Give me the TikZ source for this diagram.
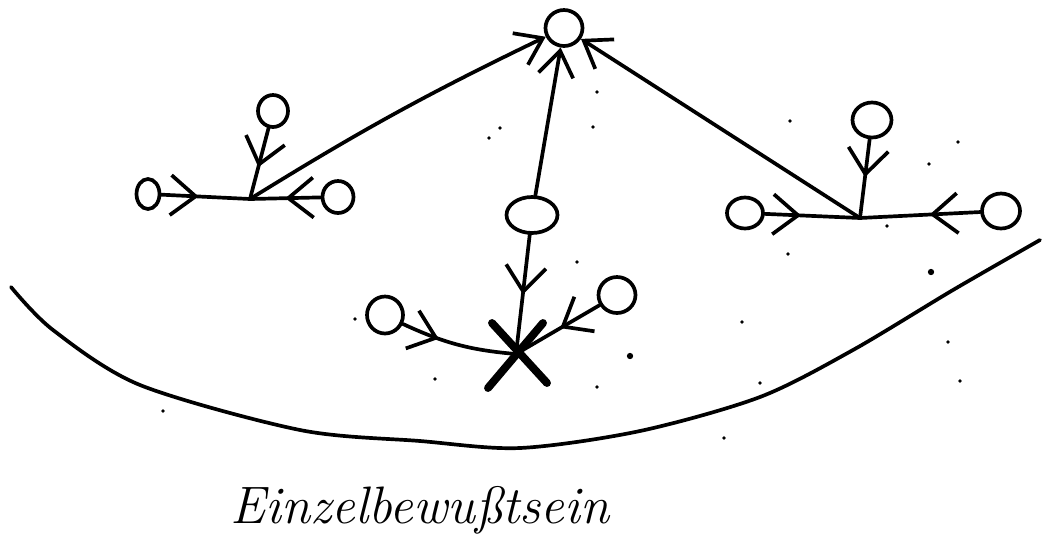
\documentclass[tikz,border=0pt]{standalone}
\usepackage{fontspec}
\usetikzlibrary{arrows.meta, decorations.markings, shapes.geometric}

\begin{document}
\begin{tikzpicture}[x=0.02cm, y=-0.02cm,
  blob/.style={ellipse, draw, line width=2.1pt, inner sep=0pt, minimum width=0.62cm, minimum height=0.62cm},
  stem/.style={line width=2.1pt, line cap=round},
  midarrow/.style={stem, postaction={decorate}, decoration={markings, mark=at position #1 with {\arrow[line width=2.1pt]{Straight Barb[length=5mm, width=8mm]}}}},
  uptip/.style={stem, -{Straight Barb[length=5mm, width=7mm]}},
  speck/.style={fill=black}]
  \useasboundingbox (0,0) rectangle (1042,552);

  % top
  \node[blob, minimum width=0.74cm, minimum height=0.72cm] (top) at (564,28) {};

  % left group
  \node[blob, minimum width=0.6cm, minimum height=0.64cm] (lt) at (273,111) {};
  \node[blob, minimum width=0.46cm, minimum height=0.6cm] (ll) at (148,194) {};
  \node[blob, minimum width=0.62cm, minimum height=0.64cm] (lr) at (338,197) {};
  \coordinate (lhub) at (250,199);

  % right group
  \node[blob, minimum width=0.78cm, minimum height=0.7cm] (rt) at (872,120) {};
  \node[blob, minimum width=0.72cm, minimum height=0.62cm] (rl) at (745,213) {};
  \node[blob, minimum width=0.76cm, minimum height=0.7cm] (rr) at (1001,211) {};
  \coordinate (rhub) at (860,218);

  % middle group
  \node[blob, minimum width=1.02cm, minimum height=0.72cm] (cc) at (532,215) {};
  \node[blob, minimum width=0.72cm, minimum height=0.74cm] (cl) at (385,315) {};
  \node[blob, minimum width=0.74cm, minimum height=0.72cm] (cr) at (617,295) {};
  \coordinate (star) at (516,354);

  \draw[midarrow=0.42] (ll) -- (lhub);
  \draw[midarrow=0.5] (lr) -- (lhub);
  \draw[midarrow=0.55] (lt) -- (lhub);
  \draw[midarrow=0.38] (rl) -- (rhub);
  \draw[midarrow=0.42] (rr) -- (rhub);
  \draw[midarrow=0.48] (rt) -- (rhub);
  \draw[midarrow=0.5] (cc) -- (star);
  \draw[midarrow=0.33] (cl) to[bend right=10] (star);
  \draw[midarrow=0.47] (cr) -- (star);

  \draw[uptip] (lhub) to[bend left=3] (top);
  \draw[uptip] (cc) -- (top);
  \draw[uptip] (rhub) -- (top);

  \draw[line width=4.5pt, line cap=round] (star) ++(-28,34) -- ++(55,-65);
  \draw[line width=4.5pt, line cap=round] (star) ++(-24,-31) -- ++(55,60);

  % boundary
  \draw[stem] plot[smooth] coordinates {(11,287) (53,330) (140,385) (300,430) (420,441) (520,448) (640,431) (760,397) (853,350) (953,290) (1040,240)};

  \node[font=\fontsize{30}{36}\selectfont\itshape] (caption) at (420,510) {Einzelbewußtsein};

  % specks
  \foreach \p in {(355,319),(435,379),(163,411),(577,262),(788,254),(742,322),(948,342),(597,387),(760,383),(960,381),(724,438),(597,92),(593,127),(790,121),(958,142),(929,164),(887,226),(500,128),(489,138)}
    \fill[speck] \p circle[radius=1.1pt];
  \fill[speck] (931,272) circle[radius=1.8pt];
  \fill[speck] (630,356) circle[radius=1.8pt];
\end{tikzpicture}
\end{document}
